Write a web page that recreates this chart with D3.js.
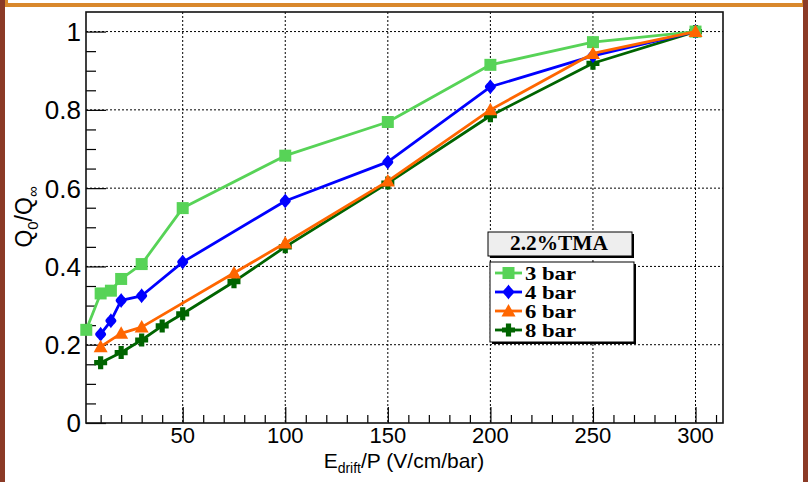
<!DOCTYPE html>
<html>
<head>
<meta charset="utf-8">
<script src="https://cdn.jsdelivr.net/npm/d3@7"></script>
<style>
html,body{margin:0;padding:0;background:#fff;}
svg{display:block;}
</style>
</head>
<body>
<svg id="chart" width="810" height="482"></svg>
<script>
// ---- data ----
const seriesNames = ["3 bar", "4 bar", "6 bar", "8 bar"];
const legendTitle = "2.2%TMA";
const x3 = [3, 10, 15, 20, 30, 50, 100, 150, 200, 250, 300];
const y3 = [0.238, 0.331, 0.338, 0.368, 0.406, 0.549, 0.683, 0.769, 0.915, 0.973, 1.0];
const x4 = [10, 15, 20, 30, 50, 100, 150, 200, 250, 300];
const y4 = [0.227, 0.261, 0.313, 0.325, 0.411, 0.567, 0.667, 0.859, 0.938, 1.0];
const x6 = [10, 20, 30, 75, 100, 150, 200, 250, 300];
const y6 = [0.195, 0.229, 0.245, 0.383, 0.46, 0.618, 0.80, 0.944, 1.0];
const x8 = [10, 20, 30, 40, 50, 75, 100, 150, 200, 250, 300];
const y8 = [0.154, 0.180, 0.212, 0.248, 0.279, 0.361, 0.45, 0.613, 0.785, 0.919, 1.0];
const xMajorTicks = [50, 100, 150, 200, 250, 300];
const yMajorTicks = [0, 0.2, 0.4, 0.6, 0.8, 1];
const yTickLabels = ["0", "0.2", "0.4", "0.6", "0.8", "1"];

// ---- styles ----
const colors = {"3 bar": "#57d357", "4 bar": "#0000ff", "6 bar": "#ff6600", "8 bar": "#006400"};
const shapes = {"3 bar": "square", "4 bar": "diamond", "6 bar": "triangle", "8 bar": "cross"};

const svg = d3.select("#chart");
const L = 86, R = 723, T = 12, B = 423;
const x = d3.scaleLinear().domain([2.86, 313.4]).range([L, R]);
const y = d3.scaleLinear().domain([0, 1.05]).range([B, T]);

// frame decoration
svg.append("rect").attr("x", 0).attr("y", 0).attr("width", 810).attr("height", 482).attr("fill", "#fff");
svg.append("rect").attr("x", 4).attr("y", -10).attr("width", 802).attr("height", 17).attr("fill", "#d9882c");
svg.append("rect").attr("x", 8).attr("y", -10).attr("width", 794).attr("height", 13).attr("fill", "#fff");
svg.append("rect").attr("x", 0).attr("y", 0).attr("width", 5).attr("height", 482).attr("fill", "#8b3a26");
svg.append("rect").attr("x", 803).attr("y", 0).attr("width", 5).attr("height", 482).attr("fill", "#8b3a26");

// grid
const grid = svg.append("g");
xMajorTicks.forEach(v => {
  grid.append("line").attr("x1", x(v)).attr("x2", x(v)).attr("y1", T).attr("y2", B)
    .attr("stroke", "#000").attr("stroke-width", 1).attr("stroke-dasharray", "2,2");
});
yMajorTicks.filter(v => v > 0).forEach(v => {
  grid.append("line").attr("x1", L).attr("x2", R).attr("y1", y(v)).attr("y2", y(v))
    .attr("stroke", "#000").attr("stroke-width", 1).attr("stroke-dasharray", "2,2");
});

// axes (ROOT-like inner ticks)
const xAxis = d3.axisTop(x).tickValues(d3.range(10, 311, 10))
  .tickSize(0).tickFormat("");
const gx = svg.append("g").attr("transform", `translate(0,${B})`).call(xAxis);
gx.select(".domain").remove();
gx.selectAll(".tick line").attr("y2", d => (d % 50 === 0 ? -16 : -8)).attr("stroke", "#000").attr("stroke-width", 1.2);
xMajorTicks.forEach(v => {
  svg.append("text").attr("x", x(v)).attr("y", 443).attr("text-anchor", "middle")
    .attr("font-family", "Liberation Sans, Arial, sans-serif").attr("font-size", 22).attr("fill", "#000").text(v);
});

const yAxis = d3.axisRight(y).tickValues(d3.range(0, 21).map(i => i * 0.05)).tickSize(0).tickFormat("");
const gy = svg.append("g").attr("transform", `translate(${L},0)`).call(yAxis);
gy.select(".domain").remove();
gy.selectAll(".tick line").attr("x2", (d, i) => (i % 4 === 0 ? 20 : 10)).attr("stroke", "#000").attr("stroke-width", 1.2);
yMajorTicks.forEach((v, i) => {
  svg.append("text").attr("x", 81).attr("y", y(v)).attr("dy", "0.36em").attr("text-anchor", "end")
    .attr("font-family", "Liberation Sans, Arial, sans-serif").attr("font-size", 26).attr("fill", "#000").text(yTickLabels[i]);
});

// plot frame
svg.append("rect").attr("x", L).attr("y", T).attr("width", R - L).attr("height", B - T)
  .attr("fill", "none").attr("stroke", "#111").attr("stroke-width", 1.6);

// markers
function markerPath(shape) {
  switch (shape) {
    case "square": return "M-6,-6H6V6H-6Z";
    case "diamond": return "M0,-7.5C2,-4 5.5,-2 5.5,0C5.5,2 2,4 0,7.5C-2,4 -5.5,2 -5.5,0C-5.5,-2 -2,-4 0,-7.5Z";
    case "triangle": return "M0,-7L7,5.5H-7Z";
    case "cross": return "M-2.6,-6.5H2.6V-2.6H6.5V2.6H2.6V6.5H-2.6V2.6H-6.5V-2.6H-2.6Z";
  }
}

const seriesData = {
  "3 bar": x3.map((v, i) => [v, y3[i]]),
  "4 bar": x4.map((v, i) => [v, y4[i]]),
  "6 bar": x6.map((v, i) => [v, y6[i]]),
  "8 bar": x8.map((v, i) => [v, y8[i]])
};
const drawOrder = ["8 bar", "4 bar", "3 bar", "6 bar"];
const line = d3.line().x(d => x(d[0])).y(d => y(d[1]));
drawOrder.forEach(name => {
  const g = svg.append("g");
  g.append("path").attr("d", line(seriesData[name])).attr("fill", "none")
    .attr("stroke", colors[name]).attr("stroke-width", 2.8).attr("stroke-linejoin", "round");
  g.selectAll("path.m").data(seriesData[name]).enter().append("path").attr("class", "m")
    .attr("transform", d => `translate(${x(d[0])},${y(d[1])})`)
    .attr("d", markerPath(shapes[name])).attr("fill", colors[name]);
});

// legend
const lg = svg.append("g");
lg.append("rect").attr("x", 490).attr("y", 234).attr("width", 144).attr("height", 24).attr("fill", "#000");
lg.append("rect").attr("x", 488).attr("y", 232).attr("width", 144).attr("height", 24)
  .attr("fill", "#eeeeee").attr("stroke", "#000").attr("stroke-width", 1);
lg.append("text").attr("x", 559).attr("y", 250).attr("text-anchor", "middle")
  .attr("font-family", "Liberation Serif, Times New Roman, serif").attr("font-weight", "bold")
  .attr("font-size", 20).attr("textLength", 98).attr("lengthAdjust", "spacingAndGlyphs").attr("fill", "#000").text(legendTitle);

lg.append("rect").attr("x", 492).attr("y", 264).attr("width", 144).attr("height", 80).attr("fill", "#000");
lg.append("rect").attr("x", 490).attr("y", 262).attr("width", 144).attr("height", 80)
  .attr("fill", "#fff").attr("stroke", "#000").attr("stroke-width", 1);
seriesNames.forEach((name, i) => {
  const cy = 273 + i * 19;
  lg.append("line").attr("x1", 495).attr("x2", 522).attr("y1", cy).attr("y2", cy)
    .attr("stroke", colors[name]).attr("stroke-width", 2.8);
  lg.append("path").attr("transform", `translate(508.5,${cy})`).attr("d", markerPath(shapes[name])).attr("fill", colors[name]);
  lg.append("text").attr("x", 525).attr("y", cy + 6.5)
    .attr("font-family", "Liberation Serif, Times New Roman, serif").attr("font-weight", "bold")
    .attr("font-size", 19).attr("textLength", 51).attr("lengthAdjust", "spacingAndGlyphs").attr("fill", "#000").text(name);
});

// axis titles
const xt = svg.append("text").attr("x", 404).attr("y", 468).attr("text-anchor", "middle")
  .attr("font-family", "Liberation Sans, Arial, sans-serif").attr("font-size", 21).attr("fill", "#000");
xt.append("tspan").text("E");
xt.append("tspan").attr("font-size", 14).attr("dy", 5).text("drift");
xt.append("tspan").attr("dy", -5).text("/P (V/cm/bar)");

const yt = svg.append("text").attr("transform", "translate(32,217) rotate(-90)").attr("text-anchor", "middle")
  .attr("font-family", "Liberation Sans, Arial, sans-serif").attr("font-size", 23).attr("fill", "#000");
yt.append("tspan").text("Q");
yt.append("tspan").attr("font-size", 15).attr("dy", 6).text("0");
yt.append("tspan").attr("dy", -6).text("/Q");
yt.append("tspan").attr("font-size", 15).attr("dy", 6).text("∞");
</script>
</body>
</html>
